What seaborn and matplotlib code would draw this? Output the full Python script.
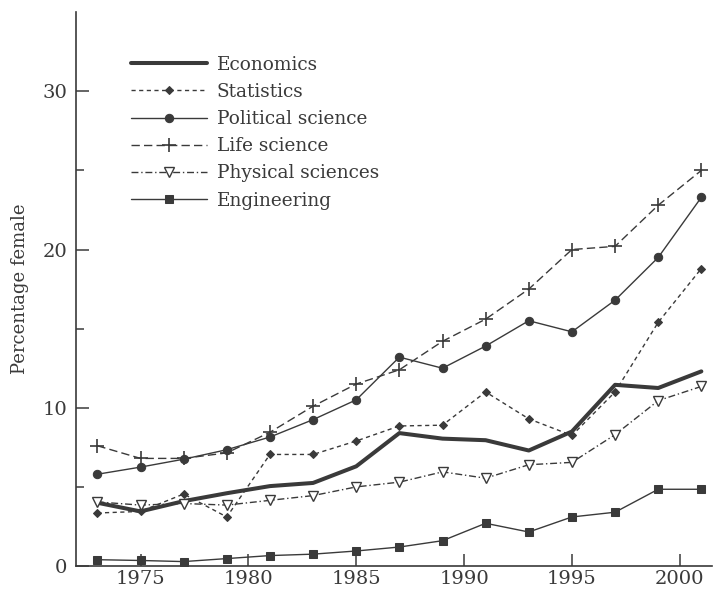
import matplotlib
matplotlib.use("Agg")
import matplotlib.pyplot as plt
import numpy as np
import pandas as pd
import seaborn as sns

years = [1973, 1975, 1977, 1979, 1981, 1983, 1985, 1987, 1989, 1991, 1993, 1995, 1997, 1999, 2001]

economics = [4.0, 3.45, 4.1, 4.6, 5.05, 5.25, 6.3, 8.4, 8.05, 7.95, 7.3, 8.5, 11.45, 11.25, 12.3]
statistics = [3.35, 3.45, 4.55, 3.1, 7.05, 7.05, 7.9, 8.85, 8.9, 11.0, 9.3, 8.25, 11.0, 15.4, 18.8]
political_science = [5.8, 6.25, 6.75, 7.35, 8.15, 9.25, 10.5, 13.2, 12.5, 13.9, 15.5, 14.8, 16.8, 19.5, 23.3]
life_science = [7.6, 6.8, 6.8, 7.15, 8.45, 10.1, 11.5, 12.4, 14.2, 15.6, 17.5, 20.0, 20.2, 22.8, 25.0]
physical_sciences = [4.05, 3.85, 3.95, 3.85, 4.15, 4.45, 5.0, 5.3, 5.95, 5.55, 6.4, 6.55, 8.3, 10.45, 11.35]
engineering = [0.4, 0.35, 0.28, 0.47, 0.66, 0.75, 0.95, 1.2, 1.6, 2.7, 2.15, 3.1, 3.4, 4.85, 4.85]

fields = ["Economics", "Statistics", "Political science", "Life science",
          "Physical sciences", "Engineering"]
series = [economics, statistics, political_science, life_science,
          physical_sciences, engineering]

df = pd.DataFrame({"Year": years})
for name, vals in zip(fields, series):
    df[name] = vals

ink = "#3a3a3a"
styles = {
    "Economics": dict(lw=2.9, ls="-", marker=None),
    "Statistics": dict(lw=1.0, ls=(0, (3, 2.5)), marker="D", ms=4.5),
    "Political science": dict(lw=1.0, ls="-", marker="o", ms=6),
    "Life science": dict(lw=1.0, ls=(0, (6, 3)), marker="+", ms=10, mew=1.2),
    "Physical sciences": dict(lw=1.0, ls=(0, (5, 2, 1, 2)), marker="v", ms=7,
                              mfc="white", mew=1.0),
    "Engineering": dict(lw=1.0, ls="-", marker="s", ms=6),
}

sns.set_style("ticks")
plt.rcParams["font.family"] = ["DejaVu Serif"]

fig = plt.figure(figsize=(7.15, 5.93), dpi=100)
ax = fig.add_axes([0.106, 0.0455, 0.89, 0.934])

for name in fields:
    st = styles[name].copy()
    lw = st.pop("lw")
    ls = st.pop("ls")
    sns.lineplot(data=df, x="Year", y=name, ax=ax, color=ink, linewidth=lw,
                 linestyle=ls, label=name, markeredgecolor=ink, **st)

ax.set_xlim(1972, 2001.5)
ax.set_ylim(0, 35)
ax.set_xticks([1975, 1980, 1985, 1990, 1995, 2000])
ax.set_yticks([0, 10, 20, 30])
ax.set_yticks([5, 15, 25], minor=True)
ax.tick_params(axis="both", which="major", direction="in", length=9, width=1.1,
               labelsize=14, colors=ink, pad=6)
ax.tick_params(axis="x", which="major", pad=3)
ax.tick_params(axis="y", which="minor", direction="in", length=6, width=1.1, colors=ink)
ax.set_xlabel("")
ax.set_ylabel("Percentage female", fontsize=13, color=ink, labelpad=10)
for side in ["top", "right"]:
    ax.spines[side].set_visible(False)
for side in ["left", "bottom"]:
    ax.spines[side].set_color(ink)
    ax.spines[side].set_linewidth(1.2)

leg = ax.legend(loc="upper left", bbox_to_anchor=(0.075, 0.935), frameon=False,
                fontsize=13.3, handlelength=4.1, labelspacing=0.5, handletextpad=0.55,
                borderaxespad=0)
for t in leg.get_texts():
    t.set_color(ink)

fig.savefig("out.png", dpi=100)
